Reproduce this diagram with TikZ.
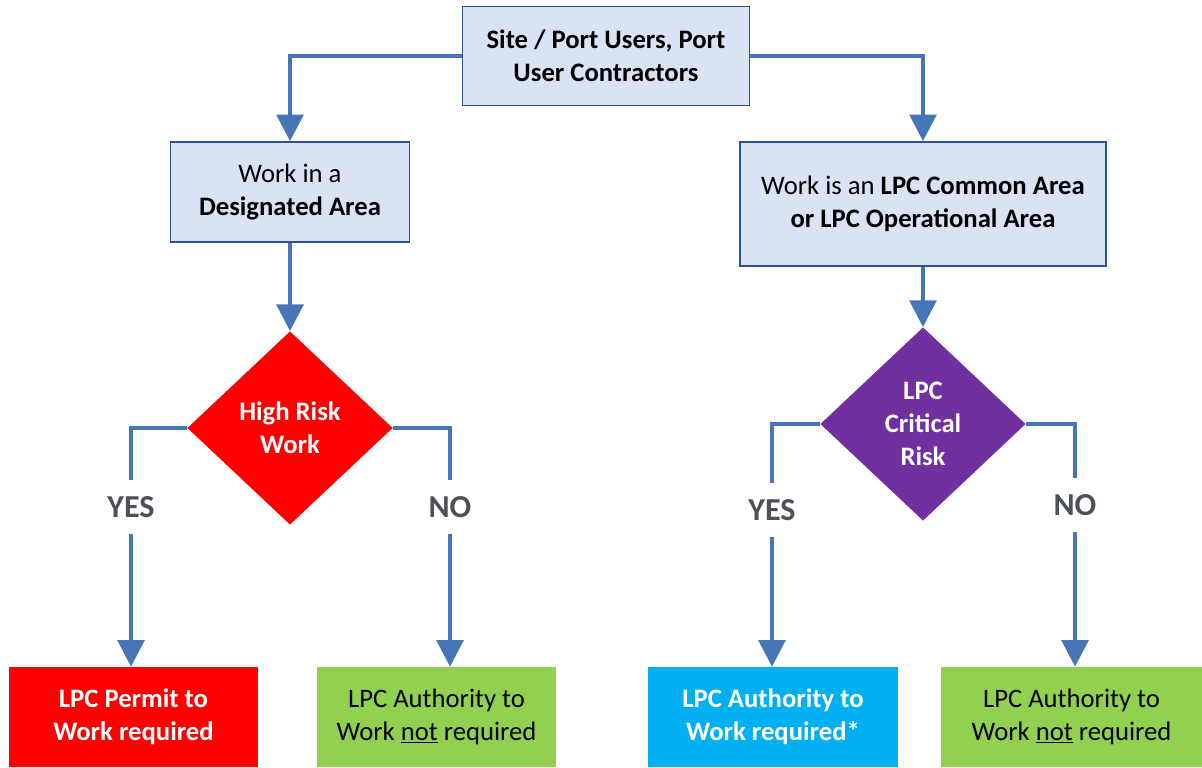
\documentclass[tikz,border=0pt]{standalone}
\usepackage{fontspec}
\setmainfont{Carlito}
\usetikzlibrary{shapes.geometric, arrows.meta, positioning}
\definecolor{lineblue}{HTML}{4676B8}
\definecolor{boxfill}{HTML}{DAE3F3}
\definecolor{boxedge}{HTML}{2F528F}
\definecolor{riskred}{HTML}{FF0000}
\definecolor{okgreen}{HTML}{92D050}
\definecolor{atwblue}{HTML}{00B0F0}
\definecolor{critpurple}{HTML}{7030A0}
\definecolor{labelgray}{HTML}{4D5057}

\begin{document}
\begin{tikzpicture}[x=0.75pt, y=-0.75pt,
  every node/.style={font=\fontsize{20}{24.5}\selectfont, align=center, inner sep=0pt},
  areabox/.style={draw=boxedge, line width=1.2pt, fill=boxfill},
  decision/.style={diamond, fill=#1, text=white, font=\fontsize{20}{24.5}\selectfont\bfseries},
  outcome/.style={fill=#1, minimum height=75pt},
  answer/.style={text=labelgray, font=\fontsize{24}{28}\selectfont\bfseries, minimum height=40pt},
  flow/.style={line width=3pt, draw=lineblue},
  >={Triangle[width=20pt,length=20pt]}]
\useasboundingbox (0,0) rectangle (1202,767);

\node[areabox, minimum width=215pt, minimum height=74pt, font=\fontsize{20}{24.5}\selectfont\bfseries] (users) at (606,56) {Site / Port Users, Port\\User Contractors};
\node[areabox, minimum width=179pt, minimum height=75pt] (desig) at (290,192) {Work in a\\\textbf{Designated Area}};
\node[areabox, minimum width=274.5pt, minimum height=93pt] (common) at (923,204) {Work is an \textbf{LPC Common Area}\\\textbf{or LPC Operational Area}};

\node[decision=riskred, minimum width=154pt, minimum height=145pt] (hrw) at (290,428) {High Risk\\Work};
\node[decision=critpurple, minimum width=154pt, minimum height=145pt] (crit) at (923,424) {LPC\\Critical\\Risk};

\node[answer] (yesl) at (131,507) {YES};
\node[answer] (nol) at (450,507) {NO};
\node[answer] (yesr) at (772,510) {YES};
\node[answer] (nor) at (1075,505) {NO};

\node[outcome=riskred, minimum width=186.75pt, text=white, font=\fontsize{20}{24.5}\selectfont\bfseries] (permit) at (133.5,717) {LPC Permit to\\Work required};
\node[outcome=okgreen, minimum width=179.25pt] (notreql) at (436.5,717) {LPC Authority to\\Work \underline{not} required};
\node[outcome=atwblue, minimum width=187.5pt, text=white, font=\fontsize{20}{24.5}\selectfont\bfseries] (atw) at (773,717) {LPC Authority to\\Work required*};
\node[outcome=okgreen, minimum width=195.75pt] (notreqr) at (1071.5,717) {LPC Authority to\\Work \underline{not} required};

\draw[flow, ->] (users.west) -| (desig.north);
\draw[flow, ->] (users.east) -| (common.north);
\draw[flow, ->] (desig.south) -- (hrw.north);
\draw[flow, ->] (common.south) -- (crit.north);

\draw[flow] (hrw.west) -| (yesl.north);
\draw[flow, ->] (yesl.south) -- (yesl.south |- permit.north);
\draw[flow] (hrw.east) -| (nol.north);
\draw[flow, ->] (nol.south) -- (nol.south |- notreql.north);
\draw[flow] (crit.west) -| (yesr.north);
\draw[flow, ->] (yesr.south) -- (yesr.south |- atw.north);
\draw[flow] (crit.east) -| (nor.north);
\draw[flow, ->] (nor.south) -- (nor.south |- notreqr.north);
\end{tikzpicture}
\end{document}
